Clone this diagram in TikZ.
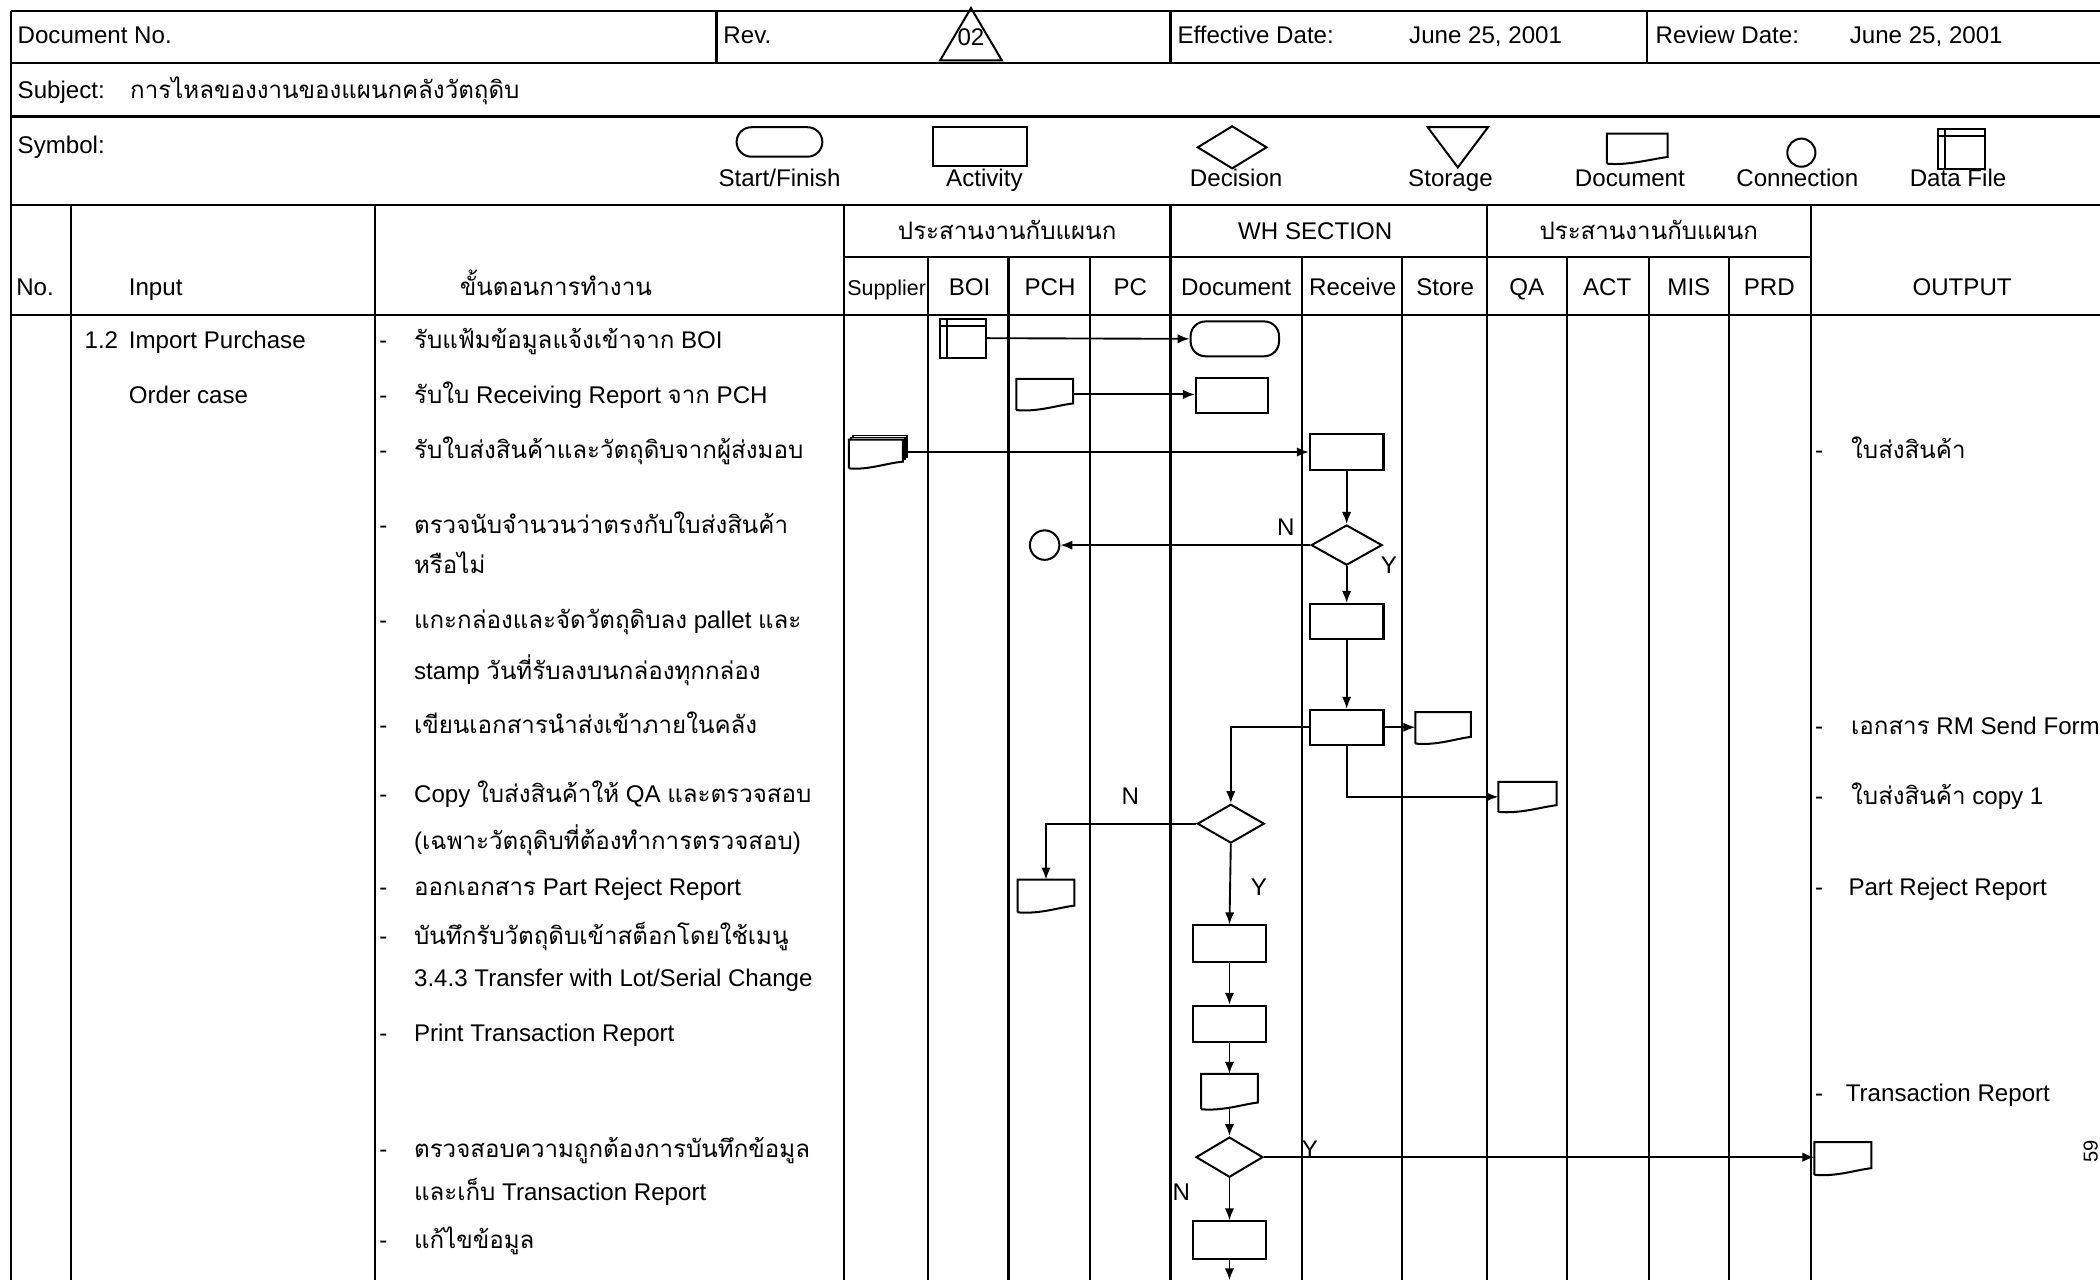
\documentclass[tikz,border=0pt]{standalone}
\usepackage{fontspec}
\setmainfont{Liberation Sans}
\newfontfamily\thaifont[Script=Thai]{Loma}
\usetikzlibrary{shapes.geometric,arrows.meta}
\newcommand{\tha}[1]{{\thaifont #1}}
\newcommand{\fs}{\fontsize{18}{21}\selectfont}
\newcommand{\docpath}[1]{%
  \draw[shapeline] (#1.south west) -- (#1.north west) -- (#1.north east) -- ([yshift=5pt]#1.south east)
    .. controls ([xshift=-12pt,yshift=3.5pt]#1.south east) and ([xshift=16pt,yshift=-1.5pt]#1.south west) .. (#1.south west);}
\newcommand{\dfpath}[1]{%
  \draw[shapeline] ([yshift=-6pt]#1.north west) -- ([yshift=-6pt]#1.north east);
  \draw[shapeline] ([xshift=6pt]#1.north west) -- ([xshift=6pt]#1.south west);}
\begin{document}
\begin{tikzpicture}[x=1pt,y=-1pt,
  tline/.style={line width=1.6pt},
  shapeline/.style={line width=1.5pt},
  box/.style={draw, shapeline, rectangle, minimum width=55pt, minimum height=27pt, inner sep=0pt},
  dec/.style={draw, shapeline, diamond, minimum width=52pt, minimum height=30pt, inner sep=0pt},
  term/.style={draw, shapeline, rectangle, rounded corners=11pt, minimum width=66pt, minimum height=26pt, inner sep=0pt},
  ghost/.style={rectangle, draw=none, inner sep=0pt},
  conn/.style={draw, shapeline, circle, minimum size=22pt, inner sep=0pt},
  flow/.style={-{Latex[length=9pt,width=7pt]}, line width=1.4pt},
  lbl/.style={anchor=base west, inner sep=0pt, font=\fs},
  clbl/.style={anchor=base, inner sep=0pt, font=\fs}]
\useasboundingbox (0,0) rectangle (1568,956);
\fill[white] (0,0) rectangle (1568,956);

% ---------- table grid ----------
\begin{scope}[tline]
\draw (8,8) -- (1568,8);
\draw (8,47) -- (1568,47);
\draw (8,87) -- (1568,87);
\draw (8,153) -- (1568,153);
\draw (630,192) -- (1352,192);
\draw (8,235) -- (1568,235);
\draw (8,8) -- (8,956);
\draw (535,8) -- (535,47);
\draw (874,8) -- (874,47);
\draw (1230,8) -- (1230,47);
\foreach \x in {53,280,630,874,1110,1352} \draw (\x,153) -- (\x,956);
\foreach \x in {693,753,814,972,1047,1170,1231,1291} \draw (\x,192) -- (\x,956);
\end{scope}

% ---------- title rows ----------
\node[lbl] (docno) at (13,32.5) {Document No.};
\node[lbl] (rev) at (540,32.5) {Rev.};
\draw[shapeline] (725,6) -- (748,45) -- (702,45) -- cycle;
\node[font=\fs, inner sep=0pt] (revno) at (725,27.5) {02};
\node[lbl] (eff) at (879,32.5) {Effective Date:};
\node[lbl] (effd) at (1052,32.5) {June 25, 2001};
\node[lbl] (rvw) at (1236,32.5) {Review Date:};
\node[lbl] (rvwd) at (1381,32.5) {June 25, 2001};
\node[lbl] (subj) at (13,73.5) {Subject:};
\node[lbl] (subjt) at (97,73.5) {\tha{การไหลของงานของแผนกคลังวัตถุดิบ}};
\node[lbl] (sym) at (13,114.5) {Symbol:};

% ---------- legend ----------
\node[term, minimum width=64pt, minimum height=22pt] (sStart) at (582,106) {};
\node[clbl] (lStart) at (582,139.5) {Start/Finish};
\node[box, minimum width=70pt, minimum height=29pt] (sAct) at (732,109.5) {};
\node[clbl] (lAct) at (735,139.5) {Activity};
\node[dec, minimum width=52pt, minimum height=32pt] (sDec) at (920,110) {};
\node[clbl] (lDec) at (923,139.5) {Decision};
\draw[shapeline] (1066,95) -- (1111,95) -- (1088.5,125) -- cycle;
\node[clbl] (lSto) at (1083,139.5) {Storage};
\node[ghost, minimum width=45pt, minimum height=22pt] (sDoc) at (1222.5,111) {};
\docpath{sDoc}
\node[clbl] (lDoc) at (1217,139.5) {Document};
\node[conn, minimum size=21pt] (sCon) at (1345,114) {};
\node[clbl] (lCon) at (1342,139.5) {Connection};
\node[box, minimum width=35pt, minimum height=30pt] (sDF) at (1464.5,111) {};
\dfpath{sDF}
\node[clbl] (lDF) at (1462,139.5) {Data File};

% ---------- column headers ----------
\node[clbl] (g1) at (752,178.5) {\tha{ประสานงานกับแผนก}};
\node[clbl] (g2) at (982,178.5) {WH SECTION};
\node[clbl] (g3) at (1231,178.5) {\tha{ประสานงานกับแผนก}};
\node[lbl] (hNo) at (12,220.5) {No.};
\node[lbl] (hIn) at (96,220.5) {Input};
\node[clbl] (hStep) at (415,220.5) {\tha{ขั้นตอนการทำงาน}};
\node[clbl, font=\fontsize{16}{18}\selectfont] (hSup) at (662,220.5) {Supplier};
\node[clbl] (hBOI) at (724,220.5) {BOI};
\node[clbl] (hPCH) at (784,220.5) {PCH};
\node[clbl] (hPC) at (844,220.5) {PC};
\node[clbl] (hDoc) at (923,220.5) {Document};
\node[clbl] (hRec) at (1010,220.5) {Receive};
\node[clbl] (hSto) at (1079,220.5) {Store};
\node[clbl] (hQA) at (1140,220.5) {QA};
\node[clbl] (hACT) at (1200,220.5) {ACT};
\node[clbl] (hMIS) at (1261,220.5) {MIS};
\node[clbl] (hPRD) at (1321,220.5) {PRD};
\node[clbl] (hOut) at (1465,220.5) {OUTPUT};

% ---------- input column ----------
\node[lbl] (in1) at (63,260.5) {1.2};
\node[lbl] (in2) at (96,260.5) {Import Purchase};
\node[lbl] (in3) at (96,301.5) {Order case};

% ---------- steps ----------
\foreach \y in {260.5,301.5,342.5,398.5,469.5,547.5,599.5,668.5,705.5,777.5,864.5,932.5}
  \node[lbl] at (283,\y) {-};
\node[lbl] (s1) at (309,260.5) {\tha{รับแฟ้มข้อมูลแจ้งเข้าจาก} BOI};
\node[lbl] (s2) at (309,301.5) {\tha{รับใบ} Receiving Report \tha{จาก} PCH};
\node[lbl] (s3) at (309,342.5) {\tha{รับใบส่งสินค้าและวัตถุดิบจากผู้ส่งมอบ}};
\node[lbl] (s4a) at (309,398.5) {\tha{ตรวจนับจำนวนว่าตรงกับใบส่งสินค้า}};
\node[lbl] (s4b) at (309,428.5) {\tha{หรือไม่}};
\node[lbl] (s5a) at (309,469.5) {\tha{แกะกล่องและจัดวัตถุดิบลง} pallet \tha{และ}};
\node[lbl] (s5b) at (309,507.5) {stamp \tha{วันที่รับลงบนกล่องทุกกล่อง}};
\node[lbl] (s6) at (309,547.5) {\tha{เขียนเอกสารนำส่งเข้าภายในคลัง}};
\node[lbl] (s7a) at (309,599.5) {Copy \tha{ใบส่งสินค้าให้} QA \tha{และตรวจสอบ}};
\node[lbl] (s7b) at (309,634.5) {(\tha{เฉพาะวัตถุดิบที่ต้องทำการตรวจสอบ})};
\node[lbl] (s8) at (309,668.5) {\tha{ออกเอกสาร} Part Reject Report};
\node[lbl] (s9a) at (309,705.5) {\tha{บันทึกรับวัตถุดิบเข้าสต็อกโดยใช้เมนู}};
\node[lbl] (s9b) at (309,736.5) {3.4.3 Transfer with Lot/Serial Change};
\node[lbl] (s10) at (309,777.5) {Print Transaction Report};
\node[lbl] (s11a) at (309,864.5) {\tha{ตรวจสอบความถูกต้องการบันทึกข้อมูล}};
\node[lbl] (s11b) at (309,896.5) {\tha{และเก็บ} Transaction Report};
\node[lbl] (s12) at (309,932.5) {\tha{แก้ไขข้อมูล}};

% ---------- outputs ----------
\foreach \y in {342.5,548.5,600.5,668.5,822.5}
  \node[lbl] at (1355,\y) {-};
\node[lbl] (o1) at (1382,342.5) {\tha{ใบส่งสินค้า}};
\node[lbl] (o2) at (1382,548.5) {\tha{เอกสาร} RM Send Form};
\node[lbl] (o3) at (1382,600.5) {\tha{ใบส่งสินค้า} copy 1};
\node[lbl] (o4) at (1380,668.5) {Part Reject Report};
\node[lbl] (o5) at (1378,822.5) {Transaction Report};
\node[inner sep=0pt, font=\fontsize{15}{17}\selectfont, rotate=90] (pg) at (1561,860) {59};

% ---------- flow shapes ----------
\node[box, minimum width=34pt, minimum height=29pt] (df1) at (719,252.5) {};
\dfpath{df1}
\node[term] (sf1) at (922,253) {};
\node[ghost, minimum width=42pt, minimum height=23pt] (doc2) at (780,294.5) {};
\docpath{doc2}
\node[box, minimum width=54pt, minimum height=26pt] (rect2) at (920,295) {};
\node[ghost, minimum width=43pt, minimum height=24pt] (mdoc) at (655.5,337.5) {};
\draw[shapeline] (mdoc.south west) -- ([yshift=-3pt]mdoc.north west) -- ([xshift=-3pt,yshift=-3pt]mdoc.north east) -- ([xshift=-3pt,yshift=5pt]mdoc.south east)
  .. controls ([xshift=-15pt,yshift=4pt]mdoc.south east) and ([xshift=14pt,yshift=-1.5pt]mdoc.south west) .. (mdoc.south west);
\draw[line width=1pt] ([xshift=1.5pt,yshift=-3pt]mdoc.north west) -- ([xshift=1.5pt,yshift=-1.5pt]mdoc.north west) -- ([xshift=-1.5pt,yshift=-1.5pt]mdoc.north east) -- ([xshift=-1.5pt,yshift=6.5pt]mdoc.south east);
\draw[line width=1pt] ([xshift=3pt,yshift=-1.5pt]mdoc.north west) -- ([xshift=3pt]mdoc.north west) -- (mdoc.north east) -- ([yshift=8pt]mdoc.south east) -- ([xshift=-1.5pt,yshift=8pt]mdoc.south east);
\node[box] (rect1) at (1005.5,337.5) {};
\node[dec, minimum width=53pt] (dia1) at (1005.5,407) {};
\node[conn] (conn1) at (780,407) {};
\node[box, minimum height=26pt] (rect3) at (1005.5,464) {};
\node[box, minimum height=26pt] (rect4) at (1005.5,543) {};
\node[ghost, minimum width=41pt, minimum height=23pt] (doc4) at (1077.5,543.5) {};
\docpath{doc4}
\node[ghost, minimum width=43pt, minimum height=22pt] (docqa) at (1140.5,595) {};
\docpath{docqa}
\node[dec, minimum width=50pt, minimum height=29pt] (dia2) at (919,615) {};
\node[ghost, minimum width=42pt, minimum height=24pt] (docrej) at (781,669) {};
\docpath{docrej}
\node[box, minimum width=54pt] (rect5) at (918,704.5) {};
\node[box, minimum width=54pt] (rect6) at (918,764.5) {};
\node[ghost, minimum width=42pt, minimum height=26pt] (doc7) at (918,815) {};
\docpath{doc7}
\node[dec, minimum width=50pt] (dia3) at (918,864) {};
\node[ghost, minimum width=42pt, minimum height=24pt] (docout) at (1376,865) {};
\docpath{docout}
\node[box, minimum width=54pt, minimum height=28pt] (rect8) at (918,926) {};
\coordinate (cont) at (918,956);

% ---------- connectors ----------
\draw[flow] (df1.east) -- (sf1.west);
\draw[flow] (doc2.east) -- (rect2.west |- doc2.east);
\draw[flow] (mdoc.east |- rect1.west) -- (rect1.west);
\draw[flow] (rect1.south) -- (dia1.north);
\draw[flow] (dia1.west) -- (conn1.east);
\draw[flow] (dia1.south) -- (rect3.north);
\draw[flow] (rect3.south) -- (rect4.north);
\draw[flow] (rect4.east) -- (doc4.west |- rect4.east);
\draw[flow] (rect4.west) -| (dia2.north);
\draw[flow] (rect4.south) |- (docqa.west);
\draw[flow] (dia2.west) -| (docrej.north);
\draw[flow] (dia2.south) -- (rect5.north);
\draw[flow] (rect5.south) -- (rect6.north);
\draw[flow] (rect6.south) -- (doc7.north);
\draw[flow] ([yshift=2pt]doc7.south) -- (dia3.north);
\draw[flow] (dia3.east) -- (docout.west |- dia3.east);
\draw[flow] (dia3.south) -- (rect8.north);
\draw[flow] (rect8.south) -- (cont);

% ---------- branch labels ----------
\node[clbl] (n1) at (960,399.5) {N};
\node[clbl] (y1) at (1037,428.5) {Y};
\node[clbl] (n2) at (844,600.5) {N};
\node[clbl] (y2) at (940,668.5) {Y};
\node[clbl] (y3) at (978,864.5) {Y};
\node[clbl] (n3) at (882,896.5) {N};
\end{tikzpicture}
\end{document}
